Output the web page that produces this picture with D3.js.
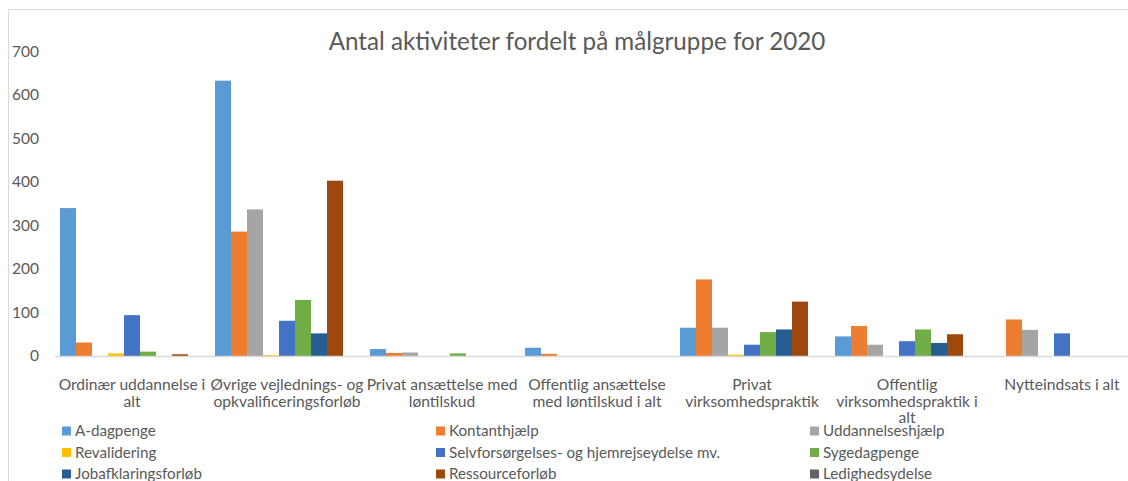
<!DOCTYPE html>
<html>
<head>
<meta charset="utf-8">
<style>
  body { margin: 0; background: #fff; }
  text { font-family: Lato, "Noto Sans", sans-serif; fill: #595959; }
</style>
</head>
<body>
<svg id="chart" width="1128" height="481"></svg>
<script src="https://d3js.org/d3.v7.min.js"></script>
<script>
// categories (x axis), with the line breaks Excel used
var categories = ["ord", "ovr", "priv_lt", "off_lt", "priv_vp", "off_vp", "nytte"];
var categoryLines = [
  ["Ordinær uddannelse i", "alt"],
  ["Øvrige vejlednings- og", "opkvalificeringsforløb"],
  ["Privat ansættelse med", "løntilskud"],
  ["Offentlig ansættelse", "med løntilskud i alt"],
  ["Privat", "virksomhedspraktik"],
  ["Offentlig", "virksomhedspraktik i", "alt"],
  ["Nytteindsats i alt"]
];

var seriesNames = ["A-dagpenge", "Kontanthjælp", "Uddannelseshjælp", "Revalidering",
  "Selvforsørgelses- og hjemrejseydelse mv.", "Sygedagpenge", "Jobafklaringsforløb",
  "Ressourceforløb", "Ledighedsydelse"];
var seriesColors = ["#5b9bd5", "#ed7d31", "#a5a5a5", "#ffc000", "#4472c4", "#70ad47",
  "#255e91", "#9e480e", "#636363"];

// values per series, one per category
var aDagpenge        = [340, 633, 16, 19, 65, 45, 0];
var kontanthjaelp    = [31, 286, 7, 5, 176, 69, 84];
var uddannelseshjaelp= [0, 337, 8, 0, 65, 26, 60];
var revalidering     = [6, 2, 0, 0, 3, 0, 0];
var selvforsorgelse  = [94, 81, 0, 0, 26, 34, 52];
var sygedagpenge     = [10, 129, 6, 0, 55, 61, 0];
var jobafklaring     = [0, 52, 0, 0, 61, 30, 0];
var ressourceforlob  = [4, 403, 0, 0, 125, 50, 0];
var ledighedsydelse  = [0, 0, 0, 0, 0, 0, 0];
var seriesValues = [aDagpenge, kontanthjaelp, uddannelseshjaelp, revalidering,
  selvforsorgelse, sygedagpenge, jobafklaring, ressourceforlob, ledighedsydelse];

var yTicks = [0, 100, 200, 300, 400, 500, 600, 700];

var svg = d3.select("#chart");

// chart frame (left and top edges show, the rest is cropped)
svg.append("rect")
  .attr("x", 8.5).attr("y", 9.5)
  .attr("width", 1200).attr("height", 600)
  .attr("fill", "none").attr("stroke", "#d9d9d9");

svg.append("text")
  .attr("x", 577).attr("y", 50)
  .attr("text-anchor", "middle")
  .style("font-size", "24.2px")
  .text("Antal aktiviteter fordelt på målgruppe for 2020");

var x0 = d3.scaleBand().domain(categories).range([54.5, 1139.5]).padding(0);
var gap = 5.5;
var x1 = d3.scaleBand().domain(d3.range(seriesNames.length))
  .range([gap, x0.bandwidth() - gap]);
var y = d3.scaleLinear().domain([0, 700]).range([356, 51.5]);

// bars
var groups = svg.append("g").selectAll("g")
  .data(categories)
  .join("g")
  .attr("transform", function(d) { return "translate(" + x0(d) + ",0)"; });

groups.selectAll("rect")
  .data(function(d, i) {
    return seriesValues.map(function(vals, s) { return { s: s, v: vals[i] }; });
  })
  .join("rect")
  .filter(function(d) { return d.v > 0; })
  .attr("x", function(d) { return x1(d.s); })
  .attr("width", x1.bandwidth())
  .attr("y", function(d) { return y(d.v); })
  .attr("height", function(d) { return y(0) - y(d.v); })
  .attr("fill", function(d) { return seriesColors[d.s]; });

// y axis
var yAxis = svg.append("g")
  .attr("transform", "translate(39,0)")
  .call(d3.axisLeft(y).tickValues(yTicks).tickSize(0).tickPadding(0));
yAxis.select(".domain").remove();
yAxis.selectAll("text").style("font-size", "15.5px").style("font-family", null).attr("fill", null);

// x axis
var xAxis = svg.append("g")
  .attr("transform", "translate(0," + y(0) + ")")
  .call(d3.axisBottom(x0).tickSize(0).tickFormat(""));
xAxis.select(".domain").attr("stroke", "#d9d9d9").attr("stroke-width", 1.5);
xAxis.selectAll(".tick text").remove();
xAxis.selectAll(".tick").each(function(d, i) {
  var t = d3.select(this).append("text")
    .attr("text-anchor", "middle")
    .style("font-size", "15.6px");
  categoryLines[i].forEach(function(line, k) {
    t.append("tspan").attr("x", 0).attr("y", 34 + k * 16.5).text(line);
  });
});

// legend, 3 columns
var legendX = [62, 436, 810];
var legendY = [431, 452.5, 474];
var legend = svg.append("g").selectAll("g")
  .data(seriesNames)
  .join("g")
  .attr("transform", function(d, i) {
    return "translate(" + legendX[i % 3] + "," + legendY[Math.floor(i / 3)] + ")";
  });
legend.append("rect")
  .attr("x", 0).attr("y", -4.5).attr("width", 9).attr("height", 9)
  .attr("fill", function(d, i) { return seriesColors[i]; });
legend.append("text")
  .attr("x", 13).attr("y", 5)
  .style("font-size", "15.2px")
  .text(function(d) { return d; });
</script>
</body>
</html>
